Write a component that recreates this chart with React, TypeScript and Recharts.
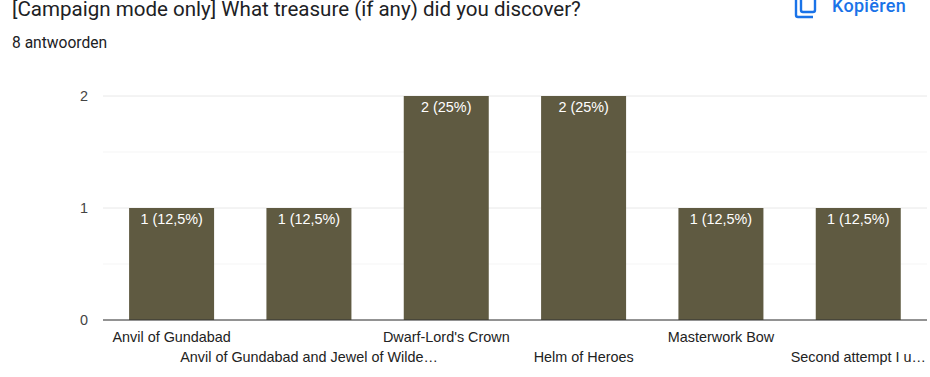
import { Bar, BarChart, CartesianGrid, LabelList, XAxis, YAxis } from "recharts";

const categories = [
  "Anvil of Gundabad",
  "Anvil of Gundabad and Jewel of Wilde…",
  "Dwarf-Lord's Crown",
  "Helm of Heroes",
  "Masterwork Bow",
  "Second attempt I u…",
];
const counts = [1, 1, 2, 2, 1, 1];
const barLabels = ["1 (12,5%)", "1 (12,5%)", "2 (25%)", "2 (25%)", "1 (12,5%)", "1 (12,5%)"];
const yTicks = [0, 1, 2];
const minorTicks = [0.5, 1.5];

const data = categories.map((name, i) => ({ name, count: counts[i], label: barLabels[i] }));

const FONT = '"Liberation Sans", Arial, sans-serif';

// labels alternate between two rows, like the Google Forms chart
const StaggeredTick = (props: any) => {
  const { x, y, payload, index } = props;
  return (
    <text
      x={x}
      y={y + (index % 2 === 0 ? 14 : 34)}
      textAnchor="middle"
      fontSize={14.4}
      fontFamily={FONT}
      fill="#222222"
    >
      {payload.value}
    </text>
  );
};

export default function App() {
  return (
    <div
      style={{
        position: "absolute",
        left: 0,
        top: 0,
        width: 930,
        height: 377,
        overflow: "hidden",
        background: "#fff",
      }}
    >
      <div
        style={{
          position: "absolute",
          left: 12,
          top: -3,
          fontFamily: "Roboto, sans-serif",
          fontSize: 20.55,
          lineHeight: "24px",
          color: "#202124",
          whiteSpace: "nowrap",
        }}
      >
        [Campaign mode only] What treasure (if any) did you discover?
      </div>
      <div
        style={{
          position: "absolute",
          left: 12,
          top: 34,
          fontFamily: "Roboto, sans-serif",
          fontSize: 15.6,
          lineHeight: "18px",
          color: "#202124",
          whiteSpace: "nowrap",
        }}
      >
        8 antwoorden
      </div>
      <svg style={{ position: "absolute", left: 794, top: 0 }} width={24} height={19}>
        <path d="M2 0 V15 Q2 17 4 17 H19" fill="none" stroke="#1a73e8" strokeWidth={2.4} />
        <path d="M7 0 V10 Q7 12 9 12 H19 Q21 12 21 10 V0" fill="none" stroke="#1a73e8" strokeWidth={2.4} />
      </svg>
      <div
        style={{
          position: "absolute",
          left: 832,
          top: -4,
          fontFamily: "Roboto, sans-serif",
          fontWeight: 500,
          fontSize: 18,
          lineHeight: "20px",
          letterSpacing: 0.3,
          color: "#1a73e8",
          whiteSpace: "nowrap",
        }}
      >
        Kopiëren
      </div>
      <BarChart
        width={930}
        height={377}
        data={data}
        barCategoryGap="19%"
        margin={{ top: 96, right: 3, bottom: 0, left: 0 }}
        style={{ position: "absolute", left: 0, top: 0 }}
      >
        <CartesianGrid vertical={false} stroke="#f5f5f5" horizontalValues={minorTicks} syncWithTicks={false} />
        <CartesianGrid vertical={false} stroke="#e8e8e8" horizontalValues={yTicks} syncWithTicks={false} />
        <XAxis
          dataKey="name"
          interval={0}
          tick={<StaggeredTick />}
          tickLine={false}
          axisLine={{ stroke: "#333333" }}
          height={57}
        />
        <YAxis
          width={103}
          domain={[0, 2]}
          ticks={yTicks}
          tickSize={0}
          tickMargin={15}
          axisLine={false}
          tick={{ fontSize: 14.4, fontFamily: FONT, fill: "#444444" }}
        />
        <Bar dataKey="count" fill="#5f5a41" isAnimationActive={false}>
          <LabelList dataKey="label" position="insideTop" offset={6} fontSize={14.4} fontFamily={FONT} fill="#ffffff" />
        </Bar>
      </BarChart>
    </div>
  );
}
